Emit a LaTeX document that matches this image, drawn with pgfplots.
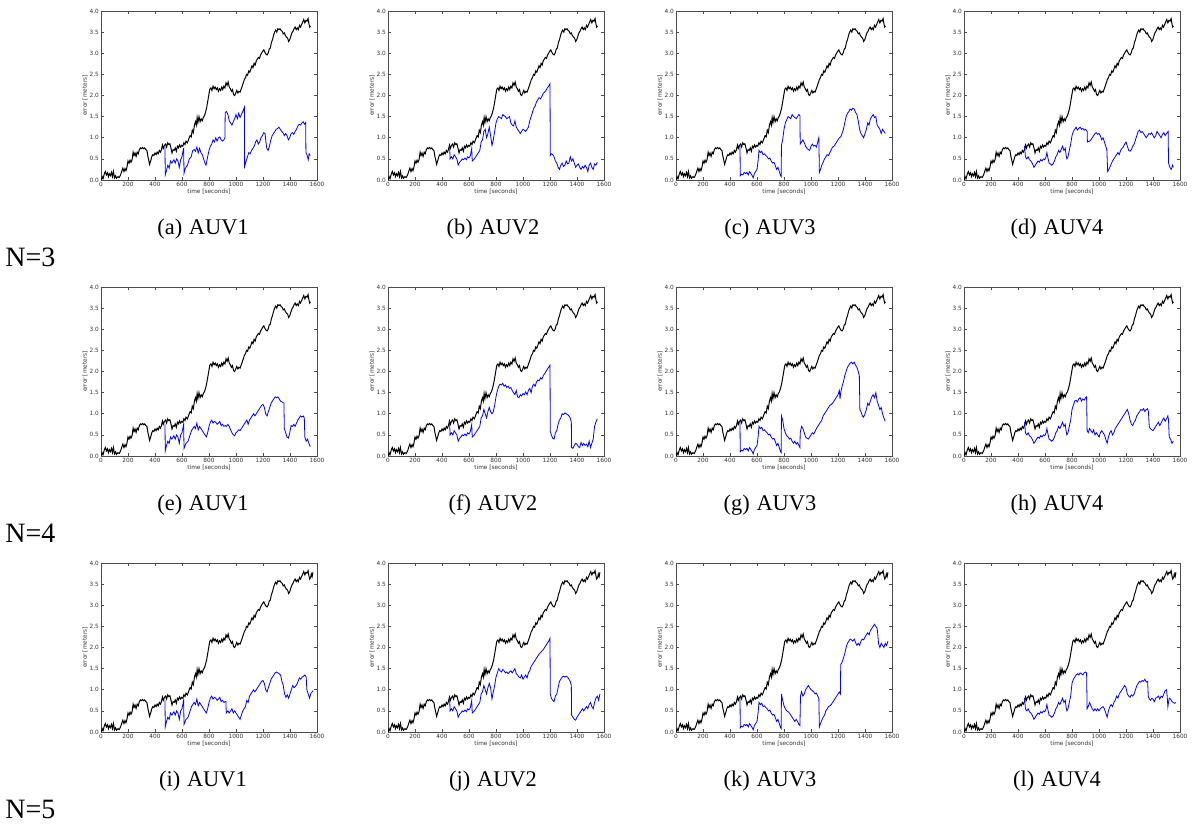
\documentclass[border=0pt]{standalone}
\usepackage{fontspec}
\setmainfont{Liberation Serif}
\newfontfamily\tickfont{DejaVu Sans}
\usepackage{pgfplots}
\usepackage{pgfplotstable}
\pgfplotsset{compat=1.18}

% common error curve (black), identical in every panel
\pgfplotstableread{
t e
0 0.00
8 0.08
15 0.03
25 0.15
32 0.20
40 0.12
48 0.17
55 0.08
62 0.15
70 0.10
78 0.18
85 0.08
92 0.20
100 0.05
108 0.10
115 0.04
125 0.08
135 0.06
145 0.12
155 0.22
162 0.28
170 0.20
178 0.27
185 0.22
192 0.30
200 0.45
208 0.40
215 0.47
222 0.42
230 0.48
238 0.66
245 0.58
252 0.64
260 0.56
268 0.66
276 0.62
284 0.72
292 0.76
300 0.74
308 0.77
316 0.74
324 0.76
332 0.72
340 0.70
348 0.55
355 0.45
360 0.37
368 0.45
376 0.55
384 0.60
392 0.58
400 0.64
408 0.60
416 0.66
424 0.62
432 0.70
440 0.66
448 0.72
455 0.83
462 0.75
470 0.82
478 0.85
486 0.78
494 0.88
502 0.84
510 0.86
518 0.76
526 0.64
534 0.72
542 0.70
550 0.76
558 0.68
566 0.80
574 0.76
582 0.83
590 0.78
598 0.82
606 0.80
614 0.88
622 0.84
630 0.92
640 0.88
650 0.97
660 1.05
668 1.02
676 1.18
684 1.12
692 1.30
700 1.38
706 1.30
712 1.48
718 1.36
726 1.50
734 1.38
742 1.45
750 1.40
758 1.48
766 1.52
774 1.60
782 1.70
790 1.85
798 2.00
806 2.15
814 2.18
822 2.12
830 2.22
838 2.16
846 2.20
854 2.14
862 2.18
870 2.10
878 2.16
886 2.12
894 2.20
902 2.14
910 2.22
918 2.18
926 2.30
934 2.24
942 2.32
950 2.20
958 2.16
966 2.10
974 2.14
982 2.02
990 2.00
998 2.06
1006 2.12
1014 2.06
1022 2.10
1030 2.08
1038 2.15
1046 2.22
1054 2.30
1062 2.38
1070 2.42
1078 2.50
1086 2.48
1094 2.58
1102 2.55
1110 2.62
1118 2.70
1126 2.66
1134 2.76
1142 2.72
1150 2.82
1158 2.86
1166 2.90
1174 2.88
1182 2.96
1190 3.00
1198 3.05
1206 3.08
1214 3.02
1222 2.98
1230 2.96
1238 3.00
1246 3.10
1254 3.12
1262 3.25
1270 3.32
1278 3.42
1286 3.50
1294 3.55
1302 3.50
1310 3.58
1318 3.56
1326 3.58
1334 3.54
1342 3.52
1350 3.46
1358 3.48
1366 3.42
1374 3.38
1382 3.36
1390 3.28
1398 3.32
1406 3.40
1414 3.48
1422 3.52
1430 3.58
1438 3.62
1446 3.56
1454 3.60
1462 3.56
1470 3.66
1478 3.62
1486 3.68
1494 3.74
1502 3.80
1510 3.72
1518 3.78
1526 3.76
1534 3.82
1540 3.70
1546 3.62
1552 3.65
}\blackrun
% the N=5 runs last a little longer
\pgfplotstableread{
t e
1552 3.65
1558 3.74
1564 3.68
1570 3.78
}\blacktail

\pgfplotsset{
  auv/.style={
    scale only axis, width=108pt, height=84.5pt, anchor=south west,
    xmin=0, xmax=1600, ymin=0, ymax=4,
    xtick={0,200,...,1600}, ytick={0,0.5,1,1.5,2,2.5,3,3.5,4},
    tick align=inside, major tick length=1.6pt,
    axis line style={black!70, line width=0.35pt},
    every tick/.style={black!70, line width=0.3pt},
    /pgf/number format/assume math mode=true,
    tick label style={font=\tickfont\fontsize{2.9}{3.2}\selectfont, text=black!80, inner sep=0.9pt},
    xticklabel style={/pgf/number format/1000 sep={}},
    yticklabel style={/pgf/number format/.cd, fixed, fixed zerofill, precision=1},
  },
  blk/.style={black, line width=0.5pt},
  blu/.style={blue, line width=0.4pt},
}

\begin{document}
\begin{tikzpicture}
\path[use as bounding box] (0,0) rectangle (598.5pt,-412pt);

% ---------- N=3 ----------
\begin{axis}[auv, at={(50.5pt,-90pt)}]
\addplot[blk] table {\blackrun};
\addplot[blu] coordinates {(474,0.78)(476,0.12)(485,0.22)(495,0.35)(505,0.28)(515,0.45)(525,0.40)(540,0.48)(550,0.40)(560,0.50)(570,0.45)(580,0.30)(590,0.48)(600,0.55)(612,0.76)(615,0.16)(625,0.28)(640,0.35)(655,0.50)(668,0.55)(680,0.70)(690,0.72)(700,0.68)(710,0.78)(720,0.64)(730,0.75)(740,0.65)(750,0.60)(760,0.50)(770,0.40)(778,0.35)(790,0.55)(800,0.70)(810,0.80)(820,0.85)(830,0.95)(840,0.90)(850,1.00)(860,0.92)(870,1.00)(880,1.02)(890,0.95)(900,0.92)(910,0.95)(918,1.00)(920,1.60)(930,1.62)(940,1.55)(950,1.40)(960,1.35)(970,1.30)(980,1.38)(990,1.45)(1000,1.55)(1010,1.45)(1020,1.58)(1030,1.48)(1040,1.55)(1050,1.62)(1062,1.72)(1064,0.32)(1075,0.45)(1085,0.55)(1095,0.65)(1105,0.62)(1115,0.70)(1125,0.75)(1135,0.80)(1145,0.90)(1155,0.95)(1165,0.85)(1175,0.90)(1185,1.00)(1195,1.05)(1205,1.12)(1215,1.10)(1222,0.90)(1228,0.75)(1238,0.70)(1248,0.80)(1258,0.95)(1268,1.05)(1278,1.10)(1288,1.15)(1298,1.20)(1308,1.22)(1318,1.25)(1328,1.20)(1338,1.15)(1348,1.12)(1358,1.05)(1368,1.10)(1378,1.05)(1388,0.95)(1398,1.00)(1408,1.10)(1418,1.12)(1428,1.08)(1438,1.15)(1448,1.20)(1458,1.28)(1468,1.32)(1478,1.30)(1488,1.35)(1498,1.38)(1508,1.32)(1516,1.36)(1518,0.65)(1528,0.58)(1535,0.48)(1542,0.62)(1550,0.58)};
\end{axis}

\begin{axis}[auv, at={(194pt,-90pt)}]
\addplot[blk] table {\blackrun};
\addplot[blu] coordinates {(456,0.83)(460,0.50)(470,0.55)(480,0.50)(490,0.60)(500,0.55)(510,0.50)(520,0.35)(530,0.42)(540,0.45)(550,0.50)(560,0.48)(570,0.52)(580,0.48)(590,0.55)(600,0.52)(610,0.58)(620,0.74)(624,0.45)(635,0.48)(650,0.55)(660,0.60)(670,0.65)(680,0.70)(690,0.90)(700,0.95)(710,1.15)(720,1.20)(730,1.00)(740,1.10)(750,1.25)(760,1.05)(770,0.82)(780,0.95)(790,1.15)(800,1.35)(810,1.45)(820,1.50)(830,1.48)(840,1.45)(850,1.55)(860,1.52)(870,1.50)(880,1.45)(890,1.48)(900,1.50)(910,1.35)(920,1.30)(930,1.28)(940,1.40)(950,1.25)(960,1.20)(970,1.15)(980,1.10)(990,1.15)(1000,1.20)(1010,1.18)(1020,1.15)(1030,1.20)(1040,1.25)(1050,1.40)(1060,1.50)(1070,1.60)(1080,1.70)(1090,1.75)(1100,1.85)(1110,1.90)(1120,1.95)(1130,1.92)(1140,1.98)(1150,2.05)(1160,2.08)(1170,2.12)(1180,2.18)(1190,2.22)(1200,2.28)(1202,0.58)(1210,0.62)(1220,0.60)(1230,0.55)(1240,0.45)(1250,0.40)(1260,0.30)(1270,0.25)(1280,0.35)(1290,0.40)(1300,0.32)(1310,0.35)(1320,0.45)(1330,0.38)(1340,0.40)(1350,0.55)(1360,0.45)(1370,0.50)(1380,0.40)(1390,0.30)(1400,0.35)(1410,0.38)(1420,0.30)(1430,0.25)(1440,0.32)(1450,0.28)(1460,0.35)(1470,0.30)(1480,0.20)(1490,0.35)(1500,0.40)(1510,0.30)(1520,0.25)(1530,0.38)(1540,0.35)(1550,0.42)};
\end{axis}

\begin{axis}[auv, at={(338pt,-90pt)}]
\addplot[blk] table {\blackrun};
\addplot[blu] coordinates {(474,0.80)(476,0.10)(485,0.14)(495,0.12)(505,0.18)(515,0.15)(525,0.18)(535,0.12)(545,0.20)(555,0.15)(565,0.10)(572,0.05)(580,0.15)(590,0.20)(600,0.25)(608,0.45)(615,0.70)(625,0.65)(635,0.68)(645,0.60)(655,0.62)(665,0.58)(675,0.55)(685,0.50)(695,0.52)(705,0.45)(715,0.40)(725,0.42)(735,0.35)(745,0.25)(755,0.30)(765,0.20)(775,0.10)(779,0.08)(781,0.82)(790,0.95)(800,1.20)(810,1.35)(820,1.42)(830,1.50)(840,1.48)(850,1.45)(860,1.55)(870,1.50)(880,1.48)(890,1.45)(900,1.50)(910,1.55)(918,1.52)(920,0.85)(930,0.90)(940,0.95)(950,0.88)(960,0.80)(970,0.75)(980,0.72)(990,0.70)(1000,0.80)(1010,0.85)(1020,0.80)(1030,0.82)(1040,0.78)(1050,0.90)(1058,1.00)(1062,0.18)(1070,0.25)(1080,0.35)(1090,0.42)(1100,0.50)(1110,0.55)(1120,0.60)(1130,0.58)(1140,0.65)(1150,0.72)(1160,0.78)(1170,0.80)(1180,0.85)(1190,0.90)(1200,0.95)(1210,1.00)(1220,1.02)(1230,1.10)(1240,1.20)(1250,1.35)(1260,1.50)(1270,1.58)(1280,1.62)(1290,1.68)(1300,1.65)(1310,1.70)(1320,1.68)(1330,1.60)(1340,1.55)(1350,1.40)(1360,1.20)(1370,1.10)(1380,1.05)(1390,1.00)(1400,1.10)(1410,1.20)(1420,1.35)(1430,1.30)(1440,1.45)(1450,1.50)(1460,1.55)(1470,1.48)(1480,1.50)(1490,1.30)(1500,1.25)(1510,1.20)(1520,1.10)(1530,1.20)(1540,1.15)(1550,1.10)};
\end{axis}

\begin{axis}[auv, at={(482pt,-90pt)}]
\addplot[blk] table {\blackrun};
\addplot[blu] coordinates {(449,0.80)(455,0.55)(465,0.50)(475,0.55)(485,0.48)(495,0.45)(505,0.40)(518,0.30)(528,0.35)(538,0.40)(548,0.45)(558,0.42)(568,0.48)(578,0.45)(588,0.50)(598,0.48)(608,0.55)(614,0.65)(620,0.55)(630,0.40)(640,0.38)(650,0.35)(660,0.38)(670,0.45)(680,0.55)(690,0.60)(700,0.70)(710,0.65)(720,0.72)(730,0.80)(740,0.70)(750,0.75)(756,0.60)(762,0.50)(770,0.55)(780,0.70)(790,0.85)(800,1.05)(810,1.15)(820,1.20)(830,1.25)(840,1.18)(850,1.22)(860,1.25)(870,1.20)(880,1.22)(890,1.18)(900,1.20)(912,1.15)(914,0.90)(930,0.92)(940,0.95)(950,1.00)(960,1.05)(970,1.10)(980,1.12)(990,1.08)(1000,1.10)(1010,1.05)(1020,0.95)(1030,1.00)(1040,0.90)(1050,0.80)(1058,0.72)(1064,0.20)(1072,0.25)(1080,0.30)(1090,0.38)(1100,0.45)(1110,0.50)(1120,0.55)(1130,0.60)(1140,0.65)(1150,0.60)(1160,0.70)(1170,0.75)(1180,0.78)(1190,0.85)(1200,0.90)(1210,0.80)(1220,0.70)(1230,0.68)(1240,0.72)(1250,0.80)(1260,0.85)(1270,0.95)(1280,1.05)(1290,1.15)(1300,1.18)(1310,1.12)(1320,1.15)(1330,1.10)(1340,1.05)(1350,1.00)(1360,1.05)(1370,1.10)(1380,1.08)(1390,1.12)(1400,1.05)(1410,1.00)(1420,1.05)(1430,1.15)(1440,1.10)(1450,1.05)(1460,1.00)(1470,1.08)(1480,1.12)(1490,1.05)(1500,1.10)(1512,1.15)(1515,0.40)(1525,0.30)(1535,0.25)(1545,0.35)(1550,0.30)};
\end{axis}

% ---------- N=4 ----------
\begin{axis}[auv, at={(50.5pt,-228pt)}]
\addplot[blk] table {\blackrun};
\addplot[blu] coordinates {(474,0.75)(476,0.12)(485,0.25)(495,0.35)(505,0.30)(515,0.45)(525,0.40)(540,0.48)(550,0.40)(560,0.50)(570,0.45)(580,0.30)(590,0.50)(600,0.55)(612,0.75)(615,0.18)(630,0.30)(645,0.35)(660,0.50)(670,0.60)(680,0.65)(690,0.70)(700,0.65)(710,0.78)(720,0.62)(730,0.70)(740,0.65)(750,0.60)(760,0.55)(770,0.50)(780,0.45)(790,0.55)(800,0.70)(810,0.80)(820,0.85)(830,0.78)(840,0.82)(850,0.80)(860,0.75)(870,0.78)(880,0.82)(890,0.72)(900,0.75)(910,0.70)(920,0.72)(930,0.70)(940,0.75)(950,0.70)(960,0.62)(970,0.55)(980,0.50)(990,0.48)(1000,0.55)(1010,0.58)(1020,0.62)(1030,0.60)(1040,0.65)(1050,0.70)(1060,0.75)(1070,0.80)(1080,0.85)(1090,0.75)(1100,0.85)(1110,0.90)(1120,0.95)(1130,1.00)(1140,0.95)(1150,1.00)(1160,1.05)(1170,1.10)(1180,1.15)(1190,1.20)(1200,1.22)(1210,1.15)(1220,1.00)(1230,0.95)(1240,1.05)(1250,1.15)(1260,1.25)(1270,1.30)(1280,1.35)(1290,1.40)(1300,1.38)(1310,1.40)(1320,1.35)(1330,1.30)(1340,1.28)(1355,1.25)(1358,0.65)(1368,0.55)(1378,0.45)(1388,0.42)(1398,0.55)(1408,0.72)(1418,0.70)(1428,0.75)(1438,0.70)(1448,0.78)(1458,0.85)(1468,0.90)(1478,0.95)(1488,0.92)(1498,0.95)(1506,0.90)(1510,0.45)(1520,0.35)(1530,0.40)(1540,0.30)(1550,0.22)};
\end{axis}

\begin{axis}[auv, at={(194pt,-228pt)}]
\addplot[blk] table {\blackrun};
\addplot[blu] coordinates {(456,0.83)(460,0.50)(470,0.55)(480,0.50)(490,0.60)(500,0.55)(510,0.50)(520,0.35)(530,0.42)(540,0.45)(550,0.50)(560,0.48)(570,0.52)(580,0.48)(590,0.55)(600,0.52)(610,0.58)(620,0.74)(624,0.45)(635,0.48)(650,0.55)(660,0.60)(670,0.65)(680,0.70)(690,0.90)(700,0.95)(710,1.10)(720,1.00)(730,0.90)(740,1.05)(750,1.15)(760,1.05)(770,1.00)(780,1.05)(790,1.20)(800,1.40)(810,1.55)(820,1.65)(830,1.70)(840,1.68)(850,1.72)(860,1.65)(870,1.68)(880,1.62)(890,1.65)(900,1.60)(910,1.62)(920,1.55)(930,1.50)(940,1.45)(950,1.55)(960,1.40)(970,1.38)(980,1.45)(990,1.42)(1000,1.48)(1010,1.45)(1020,1.52)(1030,1.45)(1040,1.55)(1050,1.60)(1060,1.50)(1070,1.65)(1080,1.70)(1090,1.65)(1100,1.75)(1110,1.80)(1120,1.78)(1130,1.85)(1140,1.82)(1150,1.90)(1160,1.95)(1170,2.00)(1180,2.05)(1190,2.10)(1200,2.15)(1202,0.58)(1210,0.50)(1220,0.42)(1230,0.40)(1240,0.55)(1250,0.60)(1260,0.75)(1270,0.85)(1280,0.90)(1290,1.00)(1300,0.98)(1310,1.02)(1320,1.00)(1330,0.98)(1340,0.95)(1350,0.90)(1358,0.80)(1360,0.20)(1370,0.18)(1380,0.25)(1390,0.30)(1400,0.28)(1410,0.22)(1420,0.20)(1430,0.32)(1440,0.25)(1450,0.30)(1460,0.25)(1470,0.28)(1480,0.22)(1490,0.35)(1500,0.20)(1510,0.30)(1520,0.40)(1530,0.70)(1540,0.80)(1550,0.88)};
\end{axis}

\begin{axis}[auv, at={(338pt,-228pt)}]
\addplot[blk] table {\blackrun};
\addplot[blu] coordinates {(474,0.80)(476,0.10)(485,0.14)(495,0.12)(505,0.18)(515,0.15)(525,0.18)(535,0.12)(545,0.20)(555,0.15)(565,0.10)(572,0.05)(580,0.15)(590,0.20)(600,0.25)(608,0.45)(615,0.70)(625,0.65)(635,0.68)(645,0.60)(655,0.62)(665,0.58)(675,0.55)(685,0.50)(695,0.52)(705,0.45)(715,0.40)(725,0.42)(735,0.35)(745,0.25)(755,0.30)(765,0.20)(775,0.10)(779,0.08)(781,0.95)(790,0.85)(800,0.65)(810,0.55)(820,0.48)(830,0.45)(840,0.40)(850,0.42)(860,0.35)(870,0.30)(880,0.35)(890,0.28)(900,0.32)(910,0.25)(918,0.20)(920,0.55)(930,0.70)(940,0.65)(950,0.55)(960,0.45)(970,0.42)(980,0.40)(990,0.45)(1000,0.50)(1010,0.55)(1020,0.52)(1030,0.58)(1040,0.65)(1050,0.70)(1060,0.75)(1070,0.80)(1080,0.85)(1090,0.95)(1100,1.00)(1110,1.05)(1120,1.10)(1130,1.15)(1140,1.20)(1150,1.22)(1160,1.25)(1170,1.30)(1180,1.35)(1190,1.40)(1200,1.45)(1210,1.55)(1215,1.35)(1220,1.50)(1230,1.65)(1240,1.75)(1250,1.90)(1260,2.00)(1270,2.10)(1280,2.15)(1290,2.20)(1300,2.22)(1310,2.18)(1320,2.22)(1330,2.15)(1340,2.10)(1350,2.00)(1358,1.90)(1362,1.10)(1370,1.05)(1380,0.95)(1390,0.92)(1400,1.00)(1410,1.10)(1420,1.25)(1430,1.20)(1440,1.30)(1450,1.40)(1460,1.45)(1470,1.38)(1480,1.50)(1490,1.30)(1500,1.20)(1510,1.10)(1520,1.15)(1530,1.00)(1540,0.90)(1550,0.82)};
\end{axis}

\begin{axis}[auv, at={(482pt,-228pt)}]
\addplot[blk] table {\blackrun};
\addplot[blu] coordinates {(449,0.80)(455,0.55)(465,0.50)(475,0.55)(485,0.48)(495,0.45)(505,0.40)(518,0.30)(528,0.35)(538,0.40)(548,0.45)(558,0.42)(568,0.48)(578,0.45)(588,0.50)(598,0.48)(608,0.55)(614,0.65)(620,0.55)(630,0.40)(640,0.38)(650,0.35)(660,0.38)(670,0.45)(680,0.55)(690,0.60)(700,0.70)(710,0.65)(720,0.72)(730,0.80)(740,0.70)(750,0.75)(756,0.60)(762,0.50)(770,0.55)(780,0.70)(790,0.85)(800,1.10)(810,1.20)(820,1.30)(830,1.32)(840,1.28)(850,1.35)(860,1.38)(870,1.30)(880,1.35)(890,1.32)(900,1.38)(908,1.40)(912,0.60)(920,0.55)(930,0.65)(940,0.60)(950,0.55)(960,0.62)(970,0.50)(980,0.55)(990,0.50)(1000,0.45)(1010,0.55)(1020,0.60)(1030,0.55)(1040,0.50)(1050,0.40)(1060,0.30)(1070,0.45)(1080,0.55)(1090,0.60)(1100,0.50)(1110,0.55)(1120,0.65)(1130,0.70)(1140,0.75)(1150,0.80)(1160,0.85)(1170,0.90)(1180,0.95)(1190,1.00)(1200,1.05)(1210,1.10)(1220,1.00)(1230,0.85)(1240,0.75)(1250,0.72)(1260,0.80)(1270,0.85)(1280,0.95)(1290,1.00)(1300,1.05)(1310,1.10)(1320,1.08)(1330,1.12)(1340,1.05)(1350,1.10)(1360,1.12)(1366,1.05)(1372,0.70)(1380,0.65)(1390,0.62)(1400,0.60)(1410,0.65)(1420,0.70)(1430,0.75)(1440,0.80)(1450,0.72)(1460,0.78)(1470,0.85)(1480,0.90)(1490,0.82)(1500,0.88)(1510,0.95)(1515,0.85)(1520,0.45)(1530,0.40)(1540,0.30)(1550,0.35)};
\end{axis}

% ---------- N=5 ----------
\begin{axis}[auv, at={(50.5pt,-366pt)}]
\addplot[blk] table {\blackrun};
\addplot[blk] table {\blacktail};
\addplot[blu] coordinates {(474,0.75)(476,0.12)(485,0.25)(495,0.35)(505,0.30)(515,0.45)(525,0.40)(540,0.48)(550,0.40)(560,0.50)(570,0.45)(580,0.30)(590,0.50)(600,0.55)(612,0.75)(615,0.18)(630,0.30)(645,0.35)(660,0.50)(670,0.60)(680,0.65)(690,0.70)(700,0.65)(710,0.78)(720,0.62)(730,0.70)(740,0.65)(750,0.60)(760,0.55)(770,0.50)(780,0.45)(790,0.55)(800,0.70)(810,0.80)(820,0.85)(830,0.78)(840,0.82)(850,0.80)(860,0.75)(870,0.78)(880,0.82)(890,0.72)(900,0.75)(910,0.70)(920,0.72)(925,0.72)(928,0.45)(940,0.50)(950,0.45)(960,0.50)(970,0.55)(980,0.45)(990,0.50)(1000,0.45)(1010,0.40)(1020,0.35)(1030,0.30)(1040,0.40)(1050,0.50)(1060,0.55)(1070,0.60)(1080,0.75)(1090,0.70)(1100,0.85)(1110,0.90)(1120,0.95)(1130,1.00)(1140,0.95)(1150,1.00)(1160,1.05)(1170,1.10)(1180,1.15)(1190,1.20)(1200,1.22)(1210,1.15)(1220,1.00)(1230,0.95)(1240,1.05)(1250,1.15)(1260,1.25)(1270,1.30)(1280,1.35)(1290,1.40)(1300,1.42)(1310,1.40)(1320,1.38)(1330,1.35)(1340,1.20)(1350,1.10)(1355,1.00)(1360,0.90)(1370,0.82)(1380,0.88)(1390,0.80)(1400,0.90)(1410,1.00)(1420,1.10)(1430,1.05)(1440,1.08)(1450,1.12)(1460,1.20)(1470,1.28)(1480,1.25)(1490,1.30)(1500,1.32)(1510,1.35)(1520,1.30)(1525,1.00)(1535,0.90)(1545,0.80)(1555,0.92)(1565,0.95)(1570,0.98)};
\end{axis}

\begin{axis}[auv, at={(194pt,-366pt)}]
\addplot[blk] table {\blackrun};
\addplot[blk] table {\blacktail};
\addplot[blu] coordinates {(456,0.83)(460,0.50)(470,0.55)(480,0.50)(490,0.60)(500,0.55)(510,0.50)(520,0.35)(530,0.42)(540,0.45)(550,0.50)(560,0.48)(570,0.52)(580,0.48)(590,0.55)(600,0.52)(610,0.58)(620,0.74)(624,0.45)(635,0.48)(650,0.55)(660,0.60)(670,0.65)(680,0.70)(690,0.90)(700,0.95)(710,1.10)(720,1.00)(730,0.90)(740,1.05)(750,1.15)(760,1.05)(770,0.78)(780,0.95)(790,1.10)(800,1.30)(810,1.40)(820,1.50)(830,1.45)(840,1.42)(850,1.48)(860,1.45)(870,1.40)(880,1.42)(890,1.38)(900,1.42)(910,1.45)(920,1.40)(930,1.45)(940,1.50)(950,1.38)(960,1.35)(970,1.30)(980,1.28)(990,1.35)(1000,1.25)(1010,1.30)(1020,1.35)(1030,1.28)(1040,1.40)(1050,1.45)(1060,1.55)(1070,1.60)(1080,1.65)(1090,1.70)(1100,1.75)(1110,1.80)(1120,1.85)(1130,1.88)(1140,1.92)(1150,1.95)(1160,2.00)(1170,2.05)(1180,2.10)(1190,2.15)(1200,2.22)(1202,0.90)(1210,0.80)(1220,0.75)(1230,0.72)(1240,0.85)(1250,0.90)(1260,1.05)(1270,1.20)(1280,1.25)(1290,1.30)(1300,1.32)(1310,1.30)(1320,1.32)(1330,1.30)(1340,1.25)(1350,1.20)(1358,1.10)(1360,0.40)(1370,0.35)(1380,0.30)(1390,0.28)(1400,0.35)(1410,0.40)(1420,0.45)(1430,0.50)(1440,0.55)(1450,0.50)(1460,0.55)(1470,0.60)(1480,0.55)(1490,0.65)(1500,0.70)(1510,0.60)(1520,0.55)(1530,0.70)(1540,0.80)(1550,0.85)(1560,0.75)(1570,0.90)};
\end{axis}

\begin{axis}[auv, at={(338pt,-366pt)}]
\addplot[blk] table {\blackrun};
\addplot[blk] table {\blacktail};
\addplot[blu] coordinates {(474,0.80)(476,0.10)(485,0.14)(495,0.12)(505,0.18)(515,0.15)(525,0.18)(535,0.12)(545,0.20)(555,0.15)(565,0.10)(572,0.05)(580,0.15)(590,0.20)(600,0.25)(608,0.45)(615,0.70)(625,0.65)(635,0.68)(645,0.60)(655,0.62)(665,0.58)(675,0.55)(685,0.50)(695,0.52)(705,0.45)(715,0.40)(725,0.42)(735,0.35)(745,0.25)(755,0.30)(765,0.20)(775,0.10)(779,0.08)(781,0.90)(790,0.75)(800,0.62)(810,0.55)(820,0.50)(830,0.48)(840,0.45)(850,0.40)(860,0.35)(870,0.30)(880,0.25)(890,0.30)(900,0.25)(910,0.18)(918,0.15)(922,0.85)(930,0.95)(940,0.85)(950,0.90)(960,1.00)(970,1.05)(980,1.10)(990,1.05)(1000,1.00)(1010,0.98)(1020,0.95)(1030,0.90)(1040,0.92)(1050,0.85)(1058,0.80)(1062,0.12)(1070,0.20)(1080,0.28)(1090,0.35)(1100,0.40)(1110,0.50)(1120,0.55)(1130,0.60)(1140,0.62)(1150,0.65)(1160,0.70)(1170,0.75)(1180,0.80)(1190,0.85)(1200,0.90)(1210,0.95)(1218,0.90)(1220,1.60)(1230,1.65)(1240,1.75)(1250,1.85)(1260,2.00)(1270,2.10)(1280,2.15)(1290,2.20)(1300,2.18)(1310,2.15)(1320,2.20)(1330,2.12)(1340,2.05)(1350,2.10)(1360,2.05)(1370,2.15)(1380,2.20)(1390,2.18)(1400,2.25)(1410,2.30)(1420,2.35)(1430,2.30)(1440,2.40)(1450,2.45)(1460,2.50)(1470,2.55)(1480,2.50)(1490,2.45)(1495,2.30)(1500,2.10)(1510,2.00)(1520,2.10)(1530,2.05)(1540,2.00)(1550,2.10)(1560,2.05)(1570,2.15)};
\end{axis}

\begin{axis}[auv, at={(482pt,-366pt)}]
\addplot[blk] table {\blackrun};
\addplot[blk] table {\blacktail};
\addplot[blu] coordinates {(449,0.80)(455,0.55)(465,0.50)(475,0.55)(485,0.48)(495,0.45)(505,0.40)(518,0.30)(528,0.35)(538,0.40)(548,0.45)(558,0.42)(568,0.48)(578,0.45)(588,0.50)(598,0.48)(608,0.55)(614,0.65)(620,0.55)(630,0.40)(640,0.38)(650,0.35)(660,0.38)(670,0.45)(680,0.55)(690,0.60)(700,0.70)(710,0.65)(720,0.72)(730,0.80)(740,0.70)(750,0.75)(756,0.60)(762,0.50)(770,0.55)(780,0.70)(790,0.85)(800,1.15)(810,1.25)(820,1.30)(830,1.35)(840,1.38)(850,1.35)(860,1.40)(870,1.38)(880,1.35)(890,1.40)(900,1.42)(908,1.40)(912,0.55)(920,0.60)(930,0.70)(940,0.62)(950,0.55)(960,0.50)(970,0.55)(980,0.50)(990,0.55)(1000,0.50)(1010,0.55)(1020,0.58)(1030,0.60)(1040,0.55)(1050,0.45)(1060,0.35)(1070,0.50)(1080,0.60)(1090,0.65)(1100,0.60)(1110,0.70)(1120,0.75)(1130,0.85)(1140,0.80)(1150,0.90)(1160,0.95)(1170,1.00)(1180,1.05)(1190,1.10)(1200,1.05)(1210,0.90)(1220,0.85)(1230,0.82)(1240,0.88)(1250,0.85)(1260,0.90)(1270,1.00)(1280,1.10)(1290,1.15)(1300,1.20)(1310,1.18)(1320,1.22)(1330,1.20)(1340,1.25)(1350,1.18)(1360,1.20)(1365,0.85)(1370,0.80)(1380,0.75)(1390,0.80)(1400,0.78)(1410,0.72)(1420,0.80)(1430,0.82)(1440,0.85)(1450,0.78)(1460,0.85)(1470,0.82)(1480,0.90)(1490,0.98)(1500,1.00)(1505,0.85)(1510,0.60)(1520,0.80)(1530,0.78)(1540,0.72)(1550,0.70)(1560,0.68)(1570,0.70)};
\end{axis}

% axis titles, same for every panel
\begin{scope}[every node/.style={font=\tickfont\fontsize{2.9}{3.2}\selectfont, text=black!80, inner sep=0pt}]
\foreach \xa in {50.5,194,338,482}{
  \foreach \ya in {-90,-228,-366}{
    \node at ({(\xa+54)*1pt},{(\ya-5.9)*1pt}) {time [seconds]};
    \node[rotate=90] at ({(\xa-8)*1pt},{(\ya+42.25)*1pt}) {error [meters]};
  }
}
\end{scope}

% sub-captions and row labels
\begin{scope}[every node/.style={anchor=base, font=\fontsize{11.2}{13}\selectfont, inner sep=0pt}]
\node at (101.5pt,-117pt) {(a)\hspace{0.3em}AUV1};
\node at (246.5pt,-117pt) {(b)\hspace{0.3em}AUV2};
\node at (385pt,-117pt) {(c)\hspace{0.3em}AUV3};
\node at (528.5pt,-117pt) {(d)\hspace{0.3em}AUV4};
\node at (101.5pt,-255pt) {(e)\hspace{0.3em}AUV1};
\node at (246.5pt,-255pt) {(f)\hspace{0.3em}AUV2};
\node at (385pt,-255pt) {(g)\hspace{0.3em}AUV3};
\node at (528.5pt,-255pt) {(h)\hspace{0.3em}AUV4};
\node at (101.5pt,-393pt) {(i)\hspace{0.3em}AUV1};
\node at (246.5pt,-393pt) {(j)\hspace{0.3em}AUV2};
\node at (385pt,-393pt) {(k)\hspace{0.3em}AUV3};
\node at (528.5pt,-393pt) {(l)\hspace{0.3em}AUV4};
\end{scope}
\begin{scope}[every node/.style={anchor=base west, font=\fontsize{14}{16}\selectfont, inner sep=0pt}]
\node at (2.5pt,-133pt) {N=3};
\node at (2.5pt,-271pt) {N=4};
\node at (2.5pt,-409pt) {N=5};
\end{scope}
\end{tikzpicture}
\end{document}
